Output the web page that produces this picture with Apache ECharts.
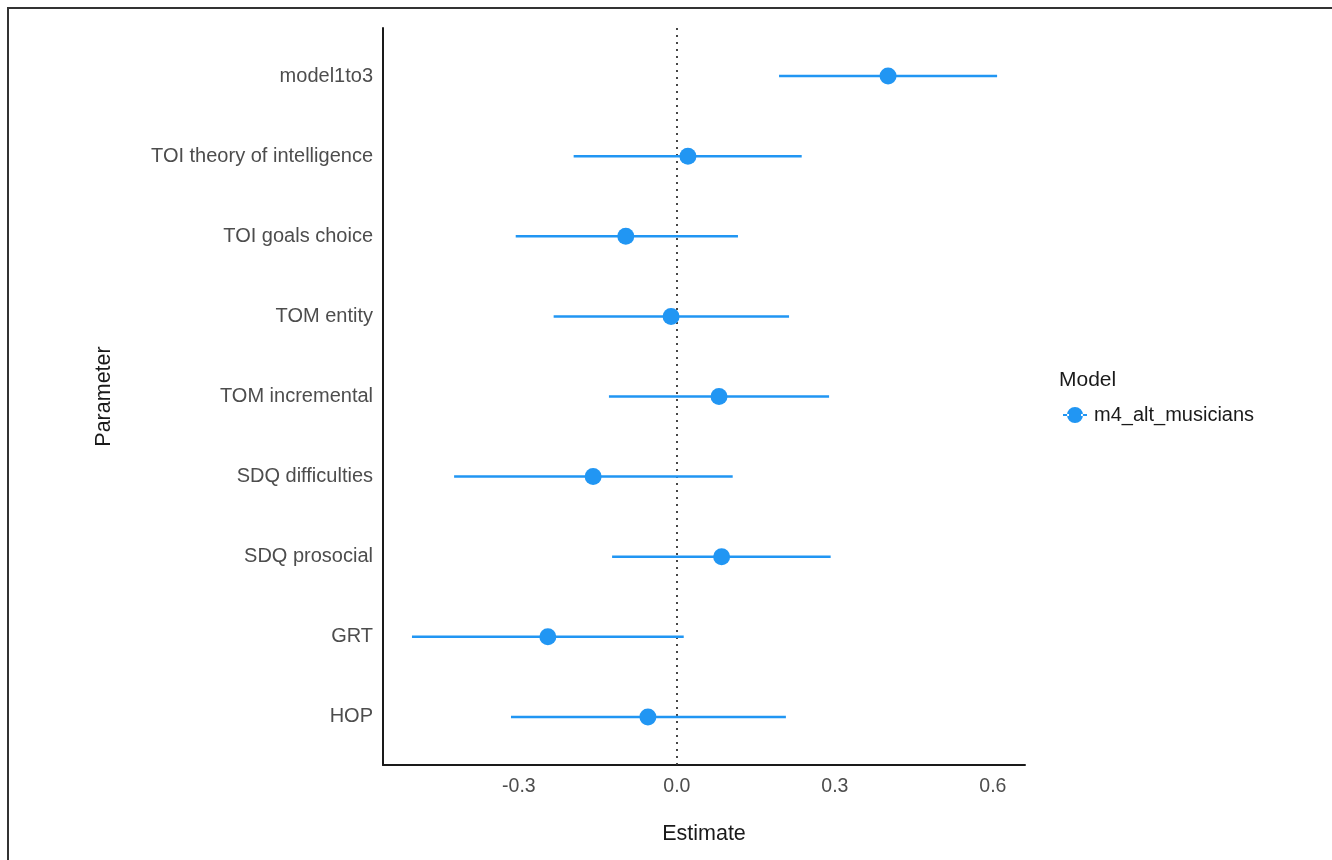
<!DOCTYPE html>
<html>
<head>
<meta charset="utf-8">
<script src="https://cdn.jsdelivr.net/npm/echarts@6/dist/echarts.min.js"></script>
<style>
html,body{margin:0;padding:0;background:#fff;}
#chart{width:1332px;height:860px;position:absolute;left:0;top:0;}
#frame{position:absolute;left:7px;top:7px;width:1325px;height:853px;border-left:2px solid #333;border-top:2px solid #333;box-sizing:border-box;pointer-events:none;}
</style>
</head>
<body>
<div id="chart"></div>
<div id="frame"></div>
<script>
const categories = ['model1to3','TOI theory of intelligence','TOI goals choice','TOM entity','TOM incremental','SDQ difficulties','SDQ prosocial','GRT','HOP'];
const estimates = [0.401, 0.021, -0.097, -0.011, 0.080, -0.159, 0.085, -0.245, -0.055];
const lowerCI  = [0.194, -0.196, -0.306, -0.234, -0.129, -0.423, -0.123, -0.503, -0.315];
const upperCI  = [0.608, 0.237, 0.116, 0.213, 0.289, 0.106, 0.292, 0.013, 0.207];
const xTicks = [-0.3, 0.0, 0.3, 0.6];
const seriesName = 'm4_alt_musicians';
const legendTitle = 'Model';

const blue = '#2196f3';
const font = 'Liberation Sans, Arial, sans-serif';

const chart = echarts.init(document.getElementById('chart'), null, {renderer:'canvas'});
const catIdx = categories.map((c,i)=>i);

chart.setOption({
  animation:false,
  backgroundColor:'transparent',
  color:[blue],
  textStyle:{fontFamily:font},
  title:[{
    text:legendTitle, left:1054, top:365,
    textStyle:{fontFamily:font,fontSize:21,fontWeight:'normal',color:'#1a1a1a'}
  }],
  legend:{
    left:1058, top:400, itemWidth:24, itemHeight:17, itemGap:10,
    data:[{name:seriesName, icon:'path://M0 9h6v2H0z M18 9h6v2h-6z M12 2a8 8 0 1 0 0.01 0z', itemStyle:{color:blue}}],
    textStyle:{fontFamily:font,fontSize:20,color:'#1a1a1a',padding:[0,0,0,2]}
  },
  grid:{left:383, right:307, top:28, bottom:95, containLabel:false},
  xAxis:{
    type:'value', min:-0.558, max:0.661,
    name:'Estimate', nameLocation:'middle', nameGap:58,
    nameTextStyle:{fontFamily:font,fontSize:21.5,color:'#1a1a1a'},
    axisLine:{show:true,onZero:false,lineStyle:{color:'#1a1a1a',width:2}},
    axisTick:{show:false},
    splitLine:{show:false},
    axisLabel:{customValues:xTicks, fontFamily:font, fontSize:19.5, color:'#4d4d4d', margin:12,
      formatter:v=>v.toFixed(1)}
  },
  yAxis:{
    type:'value', min:-0.6, max:8.6, inverse:true,
    name:'Parameter', nameLocation:'middle', nameGap:268, nameRotate:90,
    nameTextStyle:{fontFamily:font,fontSize:21.5,color:'#1a1a1a'},
    axisLine:{show:true,onZero:false,lineStyle:{color:'#1a1a1a',width:2}},
    axisTick:{show:false},
    splitLine:{show:false},
    axisLabel:{customValues:catIdx, fontFamily:font, fontSize:20, color:'#4d4d4d', margin:10,
      formatter:v=>categories[Math.round(v)]}
  },
  series:[
    {
      type:'custom', name:seriesName, z:2,
      itemStyle:{color:blue},
      data:categories.map((c,i)=>[lowerCI[i], upperCI[i], i]),
      encode:{x:[0,1], y:2},
      renderItem:function(params, api){
        const p1 = api.coord([api.value(0), api.value(2)]);
        const p2 = api.coord([api.value(1), api.value(2)]);
        return {type:'line', shape:{x1:p1[0],y1:p1[1],x2:p2[0],y2:p2[1]},
          style:{stroke:blue, lineWidth:2.5}};
      },
      markLine:{
        silent:true, symbol:'none', label:{show:false}, z:1,
        lineStyle:{color:'#333', type:[2,5], width:1.8},
        data:[{xAxis:0}]
      }
    },
    {
      type:'scatter', name:seriesName, z:3,
      data:categories.map((c,i)=>[estimates[i], i]),
      symbol:'circle', symbolSize:17,
      itemStyle:{color:blue, opacity:1}
    }
  ]
});
</script>
</body>
</html>
